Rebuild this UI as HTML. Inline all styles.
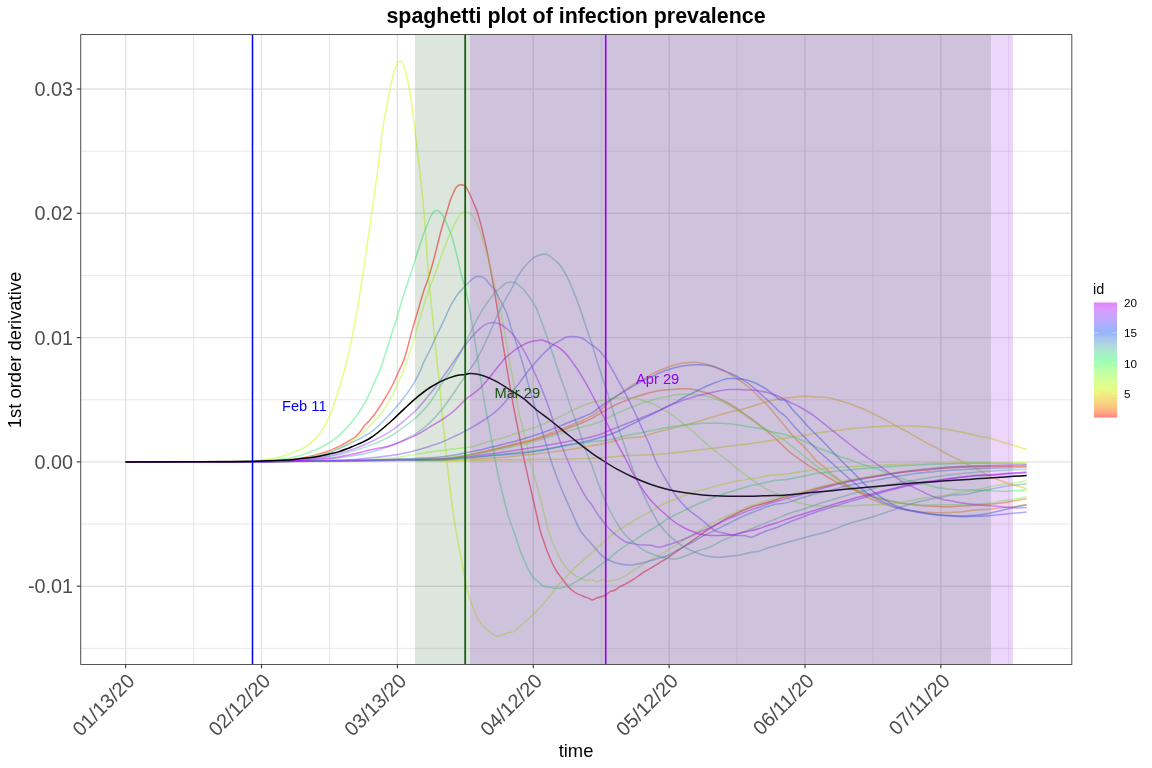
<!DOCTYPE html><html><head><meta charset="utf-8"><title>spaghetti plot of infection prevalence</title>
<style>html,body{margin:0;padding:0;background:#fff}svg{display:block}text{font-family:"Liberation Sans",sans-serif}</style></head><body>
<svg width="1152" height="768" viewBox="0 0 1152 768">
<rect width="1152" height="768" fill="#fff"/>
<defs><clipPath id="pc"><rect x="80.7" y="34.5" width="991.1" height="629.9"/></clipPath>
<linearGradient id="cb" x1="0" y1="1" x2="0" y2="0"><stop offset="0.0000" stop-color="#ff8080"/><stop offset="0.0526" stop-color="#feb280"/><stop offset="0.1053" stop-color="#faca80"/><stop offset="0.1579" stop-color="#f6de80"/><stop offset="0.2105" stop-color="#eef180"/><stop offset="0.2632" stop-color="#e2ff88"/><stop offset="0.3158" stop-color="#d7ff98"/><stop offset="0.3684" stop-color="#caffa1"/><stop offset="0.4211" stop-color="#b9ffa8"/><stop offset="0.4737" stop-color="#a0ffb0"/><stop offset="0.5263" stop-color="#9ef7bd"/><stop offset="0.5789" stop-color="#ade6cf"/><stop offset="0.6316" stop-color="#b0d6df"/><stop offset="0.6842" stop-color="#aac6ee"/><stop offset="0.7368" stop-color="#94b6fc"/><stop offset="0.7895" stop-color="#a7b0ff"/><stop offset="0.8421" stop-color="#bcaaff"/><stop offset="0.8947" stop-color="#cca4ff"/><stop offset="0.9474" stop-color="#da9aff"/><stop offset="1.0000" stop-color="#e680ff"/></linearGradient></defs>
<g><line x1="80.7" x2="1071.7" y1="648.35" y2="648.35" stroke="#e5e5e5" stroke-width="0.9"/><line x1="80.7" x2="1071.7" y1="524.05" y2="524.05" stroke="#e5e5e5" stroke-width="0.9"/><line x1="80.7" x2="1071.7" y1="399.75" y2="399.75" stroke="#e5e5e5" stroke-width="0.9"/><line x1="80.7" x2="1071.7" y1="275.45" y2="275.45" stroke="#e5e5e5" stroke-width="0.9"/><line x1="80.7" x2="1071.7" y1="151.15" y2="151.15" stroke="#e5e5e5" stroke-width="0.9"/><line y1="34.5" y2="664.4" x1="193.59" x2="193.59" stroke="#e5e5e5" stroke-width="0.9"/><line y1="34.5" y2="664.4" x1="329.46" x2="329.46" stroke="#e5e5e5" stroke-width="0.9"/><line y1="34.5" y2="664.4" x1="465.33" x2="465.33" stroke="#e5e5e5" stroke-width="0.9"/><line y1="34.5" y2="664.4" x1="601.20" x2="601.20" stroke="#e5e5e5" stroke-width="0.9"/><line y1="34.5" y2="664.4" x1="737.06" x2="737.06" stroke="#e5e5e5" stroke-width="0.9"/><line y1="34.5" y2="664.4" x1="872.93" x2="872.93" stroke="#e5e5e5" stroke-width="0.9"/><line y1="34.5" y2="664.4" x1="1008.80" x2="1008.80" stroke="#e5e5e5" stroke-width="0.9"/><line x1="80.7" x2="1071.7" y1="586.20" y2="586.20" stroke="#e3e3e3" stroke-width="1.4"/><line x1="80.7" x2="1071.7" y1="461.90" y2="461.90" stroke="#e3e3e3" stroke-width="1.4"/><line x1="80.7" x2="1071.7" y1="337.60" y2="337.60" stroke="#e3e3e3" stroke-width="1.4"/><line x1="80.7" x2="1071.7" y1="213.30" y2="213.30" stroke="#e3e3e3" stroke-width="1.4"/><line x1="80.7" x2="1071.7" y1="89.00" y2="89.00" stroke="#e3e3e3" stroke-width="1.4"/><line y1="34.5" y2="664.4" x1="125.65" x2="125.65" stroke="#e3e3e3" stroke-width="1.4"/><line y1="34.5" y2="664.4" x1="261.52" x2="261.52" stroke="#e3e3e3" stroke-width="1.4"/><line y1="34.5" y2="664.4" x1="397.39" x2="397.39" stroke="#e3e3e3" stroke-width="1.4"/><line y1="34.5" y2="664.4" x1="533.26" x2="533.26" stroke="#e3e3e3" stroke-width="1.4"/><line y1="34.5" y2="664.4" x1="669.13" x2="669.13" stroke="#e3e3e3" stroke-width="1.4"/><line y1="34.5" y2="664.4" x1="805.00" x2="805.00" stroke="#e3e3e3" stroke-width="1.4"/><line y1="34.5" y2="664.4" x1="940.87" x2="940.87" stroke="#e3e3e3" stroke-width="1.4"/></g>
<g clip-path="url(#pc)" fill="none" stroke-linejoin="round">
<path d="M125.6,461.9C150.4,461.9 175.2,461.8 200.0,461.8C216.7,461.8 233.3,462.0 250.0,461.7C256.7,461.6 263.3,461.6 270.0,461.2C274.0,461.0 278.0,460.6 282.0,460.2C286.2,459.9 290.3,459.6 294.5,459.0C298.7,458.4 302.8,457.8 307.0,456.9C311.2,456.0 315.3,454.9 319.5,453.8C322.8,452.8 326.2,451.8 329.5,450.6C332.4,449.5 335.3,448.3 338.2,446.9C341.2,445.4 344.1,443.6 347.0,441.9C349.5,440.5 352.0,439.6 354.5,437.5C356.2,436.1 357.8,434.5 359.5,432.5C361.2,430.5 362.8,427.6 364.5,425.6C366.2,423.6 367.8,422.4 369.5,420.6C375.1,414.4 380.7,405.8 386.2,396.2C388.3,392.7 390.4,389.2 392.5,385.0C394.6,380.8 396.7,376.0 398.8,371.2C400.8,366.5 402.9,363.3 405.0,356.7C406.2,353.0 407.3,348.3 408.5,344.0C410.4,336.9 412.4,329.0 414.3,322.5C415.4,318.7 416.6,315.5 417.7,311.7C418.8,308.0 419.9,303.8 421.0,300.0C422.1,296.2 423.2,292.5 424.3,289.2C425.4,285.8 426.6,283.3 427.7,280.0C429.6,274.5 431.4,268.2 433.3,261.3C434.4,257.1 435.6,252.5 436.7,248.0C437.8,243.6 438.9,238.9 440.0,234.7C441.1,230.5 442.2,226.7 443.3,223.0C444.4,219.2 445.6,215.9 446.7,212.2C447.8,208.6 448.9,204.5 450.0,201.3C451.1,198.1 452.2,195.4 453.3,193.0C454.4,190.5 455.6,188.1 456.7,186.7C458.2,184.8 459.8,184.7 461.3,184.7C462.8,184.7 464.3,184.9 465.8,186.7C467.2,188.4 468.6,191.7 470.0,194.7C471.1,197.0 472.2,199.6 473.3,202.2C474.4,204.9 475.6,207.3 476.7,210.5C477.8,213.6 478.9,217.3 480.0,221.3C481.1,225.3 482.2,230.0 483.3,234.7C484.4,239.5 485.6,244.3 486.7,249.7C487.8,254.9 488.9,260.5 490.0,266.3C491.4,273.7 492.8,281.9 494.2,290.0C496.4,302.8 498.6,316.3 500.8,330.0C502.5,340.4 504.1,351.5 505.8,361.7C507.6,372.9 509.4,383.8 511.2,394.0C512.2,399.5 513.2,404.8 514.2,410.0C515.3,415.8 516.4,421.1 517.5,426.7C518.6,432.2 519.7,437.8 520.8,443.3C521.9,448.9 523.1,454.7 524.2,460.0C525.6,466.4 526.9,472.3 528.3,478.3C529.7,484.5 531.1,490.6 532.5,496.7C533.9,502.8 535.3,508.8 536.7,515.0C537.8,519.9 538.9,525.8 540.0,530.0C541.1,534.2 542.2,536.7 543.3,540.0C544.4,543.4 545.6,546.9 546.7,550.0C548.1,553.7 549.4,556.9 550.8,560.0C552.5,563.7 554.1,567.1 555.8,570.0C557.8,573.4 559.7,575.7 561.7,578.3C563.9,581.3 566.1,584.3 568.3,586.7C570.5,589.1 572.8,591.0 575.0,592.5C577.8,594.4 580.5,595.2 583.3,596.3C585.2,597.1 587.1,597.6 589.0,598.4C590.2,598.9 591.3,600.0 592.5,600.0C593.5,600.0 594.5,599.0 595.5,598.6C596.4,598.2 597.4,597.9 598.3,597.5C600.8,596.6 603.3,596.6 605.8,595.0C607.2,594.1 608.6,592.5 610.0,591.7C611.7,590.7 613.3,590.8 615.0,590.0C616.7,589.2 618.3,587.6 620.0,586.7C621.8,585.7 623.5,585.1 625.3,584.2C628.1,582.7 630.9,581.0 633.7,579.2C636.5,577.4 639.2,575.1 642.0,573.3C644.8,571.5 647.5,570.0 650.3,568.3C653.1,566.6 655.9,565.0 658.7,563.3C661.5,561.6 664.2,560.1 667.0,558.3C669.8,556.5 672.5,554.4 675.3,552.5C678.1,550.6 680.9,548.7 683.7,546.7C686.5,544.8 689.2,542.8 692.0,540.8C694.8,538.8 697.5,536.9 700.3,535.0C703.1,533.1 705.9,531.0 708.7,529.2C711.5,527.4 714.2,525.9 717.0,524.2C719.8,522.5 722.5,520.7 725.3,519.2C728.1,517.7 730.9,516.4 733.7,515.0C736.5,513.6 739.2,512.0 742.0,510.8C744.8,509.6 747.5,508.5 750.3,507.5C753.1,506.5 755.9,505.8 758.7,505.0C761.5,504.2 764.2,503.3 767.0,502.5C769.8,501.7 772.5,500.9 775.3,500.0C778.2,499.1 781.1,497.9 784.0,497.0C789.6,495.3 795.1,494.8 800.7,493.3C806.2,491.9 811.8,489.8 817.3,488.3C822.9,486.8 828.4,485.5 834.0,484.2C839.6,482.9 845.1,481.6 850.7,480.5C856.2,479.4 861.8,478.4 867.3,477.5C872.9,476.6 878.4,475.8 884.0,475.0C889.6,474.2 895.1,473.2 900.7,472.5C906.2,471.8 911.8,471.3 917.3,470.8C922.9,470.2 928.4,469.7 934.0,469.2C939.6,468.7 945.1,468.2 950.7,467.8C956.2,467.4 961.8,467.2 967.3,467.0C970.2,466.9 973.1,466.8 976.0,466.7C984.0,466.5 992.0,466.6 1000.0,466.5C1008.9,466.4 1017.8,466.2 1026.7,466.0" stroke="#ff0000" stroke-opacity="0.5" stroke-width="1.5"/>
<path d="M125.6,461.9C150.4,461.9 175.2,461.9 200.0,461.8C233.3,461.7 266.7,461.4 300.0,461.0C333.3,460.6 366.7,460.2 400.0,459.5C416.7,459.1 433.3,460.5 450.0,458.3C455.6,457.6 461.1,456.5 466.7,455.5C472.2,454.5 477.8,453.5 483.3,452.3C488.9,451.1 494.4,449.6 500.0,448.3C505.6,447.0 511.1,445.6 516.7,444.3C522.2,443.0 527.8,441.8 533.3,440.3C538.9,438.7 544.4,436.9 550.0,435.0C555.6,433.1 561.1,430.8 566.7,428.7C572.2,426.6 577.8,424.7 583.3,422.3C586.2,421.0 589.1,419.8 592.0,418.3C594.8,416.8 597.5,415.0 600.3,413.3C603.1,411.6 605.9,409.8 608.7,408.3C611.5,406.8 614.2,405.4 617.0,404.2C619.8,402.9 622.5,401.9 625.3,400.8C628.1,399.7 630.9,398.5 633.7,397.5C636.5,396.5 639.2,395.8 642.0,395.0C644.8,394.2 647.5,393.2 650.3,392.5C653.1,391.8 655.9,391.3 658.7,390.8C661.5,390.3 664.2,390.0 667.0,389.7C669.8,389.4 672.5,389.3 675.3,389.2C678.6,389.0 682.0,388.7 685.3,388.8C688.1,388.9 690.9,389.0 693.7,389.5C696.5,390.0 699.2,390.9 702.0,391.7C704.8,392.5 707.5,393.1 710.3,394.2C713.1,395.3 715.9,396.9 718.7,398.3C721.5,399.7 724.2,401.0 727.0,402.5C729.8,404.0 732.5,405.7 735.3,407.5C738.1,409.3 740.9,411.3 743.7,413.3C746.5,415.2 749.2,417.1 752.0,419.2C754.8,421.3 757.5,423.6 760.3,425.8C763.1,428.0 765.9,430.1 768.7,432.5C771.5,434.9 774.2,437.4 777.0,440.0C779.3,442.2 781.7,444.5 784.0,446.7C786.8,449.3 789.5,452.0 792.3,454.2C795.1,456.4 797.9,458.1 800.7,460.0C803.5,461.9 806.2,464.0 809.0,465.8C811.8,467.6 814.5,469.1 817.3,470.8C820.1,472.5 822.9,474.1 825.7,475.8C828.5,477.5 831.2,479.3 834.0,480.8C836.8,482.3 839.5,483.8 842.3,485.0C845.1,486.3 847.9,487.2 850.7,488.3C853.5,489.4 856.2,490.6 859.0,491.7C861.8,492.8 864.5,494.0 867.3,495.0C870.1,496.0 872.9,496.7 875.7,497.5C878.5,498.3 881.2,499.1 884.0,499.7C886.8,500.3 889.5,500.8 892.3,501.3C895.1,501.9 897.9,502.5 900.7,503.0C903.5,503.5 906.2,503.8 909.0,504.2C911.8,504.6 914.5,505.0 917.3,505.3C922.9,505.9 928.4,506.0 934.0,506.2C939.6,506.4 945.1,506.8 950.7,506.7C956.2,506.6 961.8,506.2 967.3,505.8C970.2,505.6 973.1,505.2 976.0,505.0C980.7,504.6 985.3,504.6 990.0,504.2C993.3,503.9 996.7,503.4 1000.0,503.0C1003.3,502.6 1006.7,502.3 1010.0,501.7C1012.8,501.2 1015.5,500.5 1018.3,500.0C1021.1,499.5 1023.9,499.1 1026.7,498.7" stroke="#fc6500" stroke-opacity="0.5" stroke-width="1.5"/>
<path d="M125.6,461.9C150.4,461.9 175.2,461.9 200.0,461.8C233.3,461.7 266.7,461.4 300.0,461.0C333.3,460.6 366.7,460.3 400.0,459.5C416.7,459.1 433.3,460.4 450.0,458.0C455.6,457.2 461.1,456.1 466.7,455.0C472.2,454.0 477.8,452.9 483.3,451.7C488.9,450.4 494.4,448.9 500.0,447.5C505.6,446.1 511.1,444.7 516.7,443.3C522.2,441.9 527.8,440.9 533.3,439.2C538.9,437.5 544.4,435.4 550.0,433.3C555.6,431.2 561.1,428.9 566.7,426.7C572.2,424.5 577.8,422.5 583.3,420.0C586.2,418.7 589.1,417.5 592.0,415.8C594.8,414.2 597.5,412.2 600.3,410.0C603.1,407.8 605.9,404.9 608.7,402.5C611.5,400.1 614.2,397.9 617.0,395.8C619.8,393.7 622.5,391.9 625.3,390.0C628.1,388.1 630.9,385.9 633.7,384.2C636.5,382.5 639.2,381.5 642.0,380.0C644.8,378.5 647.5,376.5 650.3,375.0C653.1,373.5 655.9,372.1 658.7,370.8C661.5,369.6 664.2,368.5 667.0,367.5C669.8,366.5 672.5,365.4 675.3,364.7C678.1,363.9 680.9,363.4 683.7,363.0C687.0,362.5 690.4,362.1 693.7,362.2C696.5,362.3 699.2,362.8 702.0,363.3C704.8,363.8 707.5,364.5 710.3,365.3C713.1,366.1 715.9,367.1 718.7,368.3C721.5,369.5 724.2,371.0 727.0,372.5C729.8,374.0 732.5,375.7 735.3,377.5C738.1,379.3 740.9,381.2 743.7,383.3C746.5,385.4 749.2,387.5 752.0,390.0C754.8,392.5 757.5,395.5 760.3,398.3C763.1,401.1 765.9,403.6 768.7,406.7C771.5,409.8 774.2,413.4 777.0,416.7C779.3,419.5 781.7,422.2 784.0,425.0C786.2,427.7 788.5,430.6 790.7,433.3C792.9,435.9 795.1,438.6 797.3,440.8C799.5,443.1 801.8,444.5 804.0,446.7C806.2,448.9 808.5,451.7 810.7,454.2C812.9,456.7 815.1,459.6 817.3,461.7C819.5,463.8 821.8,464.8 824.0,466.7C826.2,468.6 828.5,471.4 830.7,473.3C832.9,475.2 835.1,476.6 837.3,478.3C839.5,480.0 841.8,481.8 844.0,483.3C846.2,484.8 848.5,486.1 850.7,487.5C853.5,489.2 856.2,490.8 859.0,492.5C861.8,494.2 864.5,496.1 867.3,497.5C870.1,498.9 872.9,499.7 875.7,500.8C878.5,501.9 881.2,503.2 884.0,504.2C886.8,505.2 889.5,506.0 892.3,506.7C894.9,507.3 897.4,507.7 900.0,508.3C903.3,509.1 906.7,510.2 910.0,510.8C913.3,511.4 916.7,511.7 920.0,512.0C923.3,512.3 926.7,512.5 930.0,512.6C935.6,512.8 941.1,512.7 946.7,512.5C952.2,512.3 957.8,512.2 963.3,511.7C967.5,511.3 971.8,510.4 976.0,510.0C980.7,509.5 985.3,509.6 990.0,509.2C994.4,508.8 998.9,507.9 1003.3,507.5C1006.6,507.2 1010.0,507.1 1013.3,506.7C1017.8,506.1 1022.2,505.0 1026.7,504.2" stroke="#f69500" stroke-opacity="0.5" stroke-width="1.5"/>
<path d="M125.6,461.9C150.4,461.9 175.2,461.9 200.0,461.8C233.3,461.7 266.7,461.5 300.0,461.3C333.3,461.1 366.7,460.8 400.0,460.5C416.7,460.3 433.3,460.6 450.0,460.0C455.6,459.8 461.1,459.5 466.7,459.2C477.8,458.7 488.9,458.3 500.0,457.5C511.1,456.7 522.2,455.4 533.3,454.2C544.4,452.9 555.6,451.7 566.7,450.0C575.1,448.7 583.6,447.4 592.0,445.8C597.6,444.8 603.1,443.8 608.7,442.5C614.2,441.3 619.8,439.3 625.3,438.3C630.9,437.3 636.4,437.8 642.0,436.7C647.6,435.6 653.1,433.2 658.7,431.7C664.2,430.2 669.8,428.9 675.3,427.5C680.9,426.1 686.4,424.8 692.0,423.3C697.6,421.8 703.1,420.0 708.7,418.3C714.2,416.6 719.8,414.8 725.3,413.3C730.9,411.8 736.4,410.7 742.0,409.2C747.6,407.7 753.1,405.9 758.7,404.2C761.5,403.4 764.2,402.4 767.0,401.7C769.8,400.9 772.5,400.3 775.3,399.7C778.2,399.1 781.1,398.7 784.0,398.3C787.3,397.8 790.7,397.3 794.0,397.0C797.9,396.6 801.8,396.3 805.7,396.3C809.6,396.3 813.4,396.8 817.3,397.0C820.6,397.2 824.0,397.0 827.3,397.5C830.6,398.0 834.0,399.1 837.3,400.0C840.6,400.9 844.0,401.7 847.3,402.8C850.6,403.9 854.0,405.4 857.3,406.7C860.6,408.0 864.0,409.3 867.3,410.8C870.6,412.3 874.0,414.1 877.3,415.8C880.6,417.5 884.0,419.0 887.3,420.8C890.6,422.6 894.0,424.9 897.3,426.7C900.6,428.5 904.0,429.9 907.3,431.7C910.6,433.5 914.0,435.6 917.3,437.5C920.6,439.4 924.0,441.5 927.3,443.3C930.6,445.1 934.0,446.5 937.3,448.3C940.6,450.1 944.0,452.4 947.3,454.2C950.6,456.0 954.0,457.5 957.3,459.2C960.6,460.9 964.0,462.6 967.3,464.2C970.2,465.6 973.1,466.7 976.0,468.3C979.6,470.2 983.1,473.1 986.7,475.0C990.0,476.7 993.4,477.9 996.7,479.2C1000.0,480.5 1003.4,481.9 1006.7,483.0C1010.0,484.1 1013.4,484.9 1016.7,485.8C1020.0,486.8 1023.4,487.7 1026.7,488.7" stroke="#ecbe00" stroke-opacity="0.5" stroke-width="1.5"/>
<path d="M125.6,461.9C150.4,461.9 175.2,461.8 200.0,461.8C233.3,461.7 266.7,461.7 300.0,461.6C333.3,461.5 366.7,461.5 400.0,461.2C422.2,461.0 444.5,460.8 466.7,460.5C488.9,460.2 511.1,459.9 533.3,459.5C552.9,459.1 572.4,459.3 592.0,458.2C603.1,457.6 614.2,456.5 625.3,455.8C636.4,455.1 647.6,455.0 658.7,454.2C669.8,453.4 680.9,452.1 692.0,450.8C703.1,449.6 714.2,448.1 725.3,446.7C736.4,445.3 747.6,444.2 758.7,442.5C767.1,441.2 775.6,439.6 784.0,438.3C789.6,437.4 795.1,436.7 800.7,435.8C806.2,434.9 811.8,433.8 817.3,433.0C822.9,432.2 828.4,431.5 834.0,430.8C839.6,430.1 845.1,429.3 850.7,428.7C856.2,428.1 861.8,427.6 867.3,427.2C872.9,426.8 878.4,426.4 884.0,426.2C889.6,426.0 895.1,425.8 900.7,425.8C906.2,425.8 911.8,426.0 917.3,426.3C922.9,426.6 928.4,426.9 934.0,427.5C939.6,428.1 945.1,429.0 950.7,430.0C956.2,431.0 961.8,432.0 967.3,433.3C970.2,434.0 973.1,434.8 976.0,435.5C980.7,436.6 985.3,437.1 990.0,438.3C994.4,439.4 998.9,441.2 1003.3,442.5C1006.6,443.5 1010.0,444.3 1013.3,445.3C1017.8,446.6 1022.2,448.1 1026.7,449.5" stroke="#dde300" stroke-opacity="0.5" stroke-width="1.5"/>
<path d="M125.6,461.9C150.4,461.9 175.2,461.9 200.0,461.8C210.7,461.8 221.3,462.0 232.0,461.7C240.3,461.5 248.7,461.5 257.0,460.6C261.2,460.1 265.3,459.5 269.5,458.8C273.7,458.0 277.8,457.4 282.0,456.2C286.2,455.1 290.3,453.6 294.5,451.9C297.8,450.6 301.2,449.6 304.5,447.5C307.4,445.7 310.3,443.4 313.2,440.6C315.3,438.6 317.4,436.6 319.5,433.8C321.6,430.9 323.7,427.7 325.8,423.8C327.8,419.8 329.9,415.5 332.0,410.0C333.7,405.6 335.3,400.3 337.0,395.0C338.2,391.0 339.5,386.7 340.8,382.5C342.0,378.3 343.2,374.6 344.5,370.0C349.5,351.7 354.5,326.8 359.5,296.0C361.3,284.7 363.2,272.4 365.0,259.7C366.1,252.1 367.2,244.0 368.3,236.3C369.4,228.4 370.6,220.9 371.7,213.0C372.8,205.3 373.9,197.6 375.0,189.7C376.0,182.5 377.0,175.7 378.0,168.0C379.5,156.4 381.0,140.7 382.5,130.0C384.2,118.1 385.8,110.4 387.5,101.7C389.3,92.2 391.2,82.7 393.0,75.8C393.9,72.3 394.9,69.0 395.8,66.7C397.9,61.6 399.9,59.9 402.0,62.6C403.6,64.7 405.1,69.2 406.7,75.8C408.2,82.3 409.8,91.2 411.3,101.7C412.6,110.8 414.0,122.5 415.3,133.3C416.7,144.6 418.1,155.3 419.5,168.0C421.1,182.2 422.6,196.0 424.2,214.7C425.8,233.4 427.3,261.8 428.9,280.0C430.0,292.9 431.1,301.9 432.2,313.3C433.2,323.3 434.2,334.1 435.2,344.0C436.8,360.1 438.4,373.7 440.0,390.0C441.4,404.3 442.8,420.9 444.2,435.0C445.9,451.8 447.5,467.6 449.2,481.7C451.4,500.3 453.6,516.4 455.8,530.0C457.5,540.3 459.1,547.8 460.8,556.7C462.5,565.6 464.1,575.8 465.8,583.3C466.9,588.4 468.1,592.8 469.2,596.7C470.6,601.4 471.9,604.7 473.3,608.3C475.0,612.6 476.6,616.9 478.3,620.0C481.1,625.3 483.9,626.7 486.7,629.2C490.3,632.5 493.9,635.8 497.5,636.3C500.6,636.7 503.6,634.3 506.7,633.3C509.5,632.4 512.2,632.5 515.0,630.8C517.8,629.1 520.5,625.8 523.3,623.3C526.6,620.3 530.0,617.4 533.3,614.2C536.1,611.5 538.9,608.9 541.7,605.8C544.5,602.7 547.2,599.4 550.0,595.8C552.2,592.9 554.5,589.4 556.7,586.7C559.5,583.4 562.2,581.2 565.0,578.3C567.8,575.4 570.5,572.0 573.3,569.2C576.1,566.4 578.9,564.2 581.7,561.7C585.1,558.6 588.6,555.6 592.0,552.5C594.8,550.0 597.5,547.5 600.3,545.0C603.1,542.5 605.9,539.9 608.7,537.5C611.5,535.1 614.2,532.8 617.0,530.8C619.8,528.8 622.5,527.5 625.3,525.8C628.1,524.1 630.9,522.5 633.7,520.8C636.5,519.1 639.2,517.3 642.0,515.8C644.8,514.3 647.5,513.2 650.3,511.7C653.1,510.2 655.9,508.2 658.7,506.7C661.5,505.2 664.2,503.8 667.0,502.5C669.8,501.2 672.5,500.3 675.3,499.2C678.1,498.1 680.9,496.9 683.7,495.8C686.5,494.7 689.2,493.4 692.0,492.5C694.8,491.6 697.5,491.0 700.3,490.3C703.1,489.5 705.9,488.8 708.7,488.0C711.5,487.3 714.2,486.5 717.0,485.8C719.8,485.1 722.5,484.4 725.3,483.7C728.1,483.0 730.9,482.3 733.7,481.7C736.5,481.1 739.2,480.8 742.0,480.3C744.8,479.8 747.5,479.3 750.3,478.8C753.1,478.3 755.9,478.0 758.7,477.5C761.5,477.0 764.2,476.3 767.0,475.8C769.8,475.3 772.5,475.0 775.3,474.7C778.2,474.4 781.1,474.5 784.0,474.2C789.6,473.7 795.1,472.5 800.7,471.7C806.2,470.9 811.8,469.9 817.3,469.2C822.9,468.5 828.4,467.9 834.0,467.5C839.6,467.1 845.1,467.0 850.7,466.7C856.2,466.4 861.8,466.1 867.3,465.8C872.9,465.5 878.4,465.3 884.0,465.0C889.6,464.7 895.1,464.4 900.7,464.2C906.2,464.0 911.8,463.8 917.3,463.7C922.9,463.5 928.4,463.4 934.0,463.3C939.6,463.2 945.1,463.1 950.7,463.0C959.1,462.9 967.6,462.8 976.0,462.8C984.0,462.8 992.0,462.8 1000.0,462.8C1008.9,462.8 1017.8,462.8 1026.7,462.8" stroke="#c6ff11" stroke-opacity="0.5" stroke-width="1.5"/>
<path d="M125.6,461.9C150.4,461.9 175.2,461.8 200.0,461.8C216.7,461.8 233.3,461.9 250.0,461.7C258.3,461.6 266.7,461.7 275.0,461.2C281.5,460.8 288.0,460.2 294.5,459.4C298.7,458.9 302.8,458.2 307.0,457.5C311.2,456.8 315.3,456.1 319.5,455.0C322.8,454.1 326.2,453.2 329.5,451.9C332.4,450.8 335.3,449.5 338.2,448.1C341.2,446.7 344.1,445.3 347.0,443.8C349.5,442.4 352.0,441.1 354.5,439.4C357.0,437.7 359.5,435.9 362.0,433.8C364.5,431.6 367.0,428.9 369.5,426.2C375.1,420.3 380.7,415.4 386.2,406.2C388.3,402.8 390.4,399.2 392.5,395.0C394.6,390.8 396.7,385.9 398.8,381.2C400.4,377.5 402.1,374.3 403.8,370.0C405.8,364.7 407.9,357.7 410.0,351.7C410.9,349.1 411.8,346.9 412.7,344.0C413.8,340.4 414.9,335.7 416.0,331.7C417.1,327.7 418.2,323.7 419.3,320.0C420.4,316.2 421.6,312.9 422.7,309.2C423.8,305.6 424.9,301.8 426.0,298.3C427.1,294.8 428.2,291.3 429.3,288.3C430.4,285.2 431.6,282.9 432.7,280.0C434.6,275.2 436.4,270.0 438.3,264.7C439.4,261.5 440.6,257.8 441.7,254.7C442.8,251.7 443.9,249.1 445.0,246.3C446.1,243.5 447.2,240.6 448.3,238.0C449.4,235.3 450.6,233.0 451.7,230.5C452.8,228.0 453.9,225.2 455.0,223.0C456.1,220.8 457.2,218.9 458.3,217.2C459.4,215.5 460.6,213.9 461.7,213.0C463.1,211.9 464.4,211.7 465.8,211.7C467.2,211.7 468.6,211.8 470.0,213.0C471.1,213.9 472.2,215.6 473.3,217.2C474.4,218.9 475.6,220.6 476.7,223.0C477.8,225.3 478.9,228.2 480.0,231.3C481.1,234.4 482.2,237.7 483.3,241.3C484.4,245.0 485.6,248.8 486.7,253.0C487.8,257.1 488.9,261.8 490.0,266.3C491.9,274.1 493.9,281.8 495.8,290.0C497.2,295.9 498.6,301.6 500.0,308.3C501.4,315.0 502.8,322.2 504.2,330.0C505.9,339.2 507.5,350.6 509.2,360.0C511.0,370.1 512.8,378.2 514.6,388.3C515.8,395.2 517.1,403.9 518.3,410.0C519.7,417.0 521.1,420.9 522.5,426.7C523.9,432.5 525.3,438.8 526.7,445.0C528.1,451.0 529.4,457.7 530.8,463.3C532.5,470.2 534.1,475.6 535.8,481.7C537.5,487.8 539.1,493.7 540.8,500.0C543.3,509.5 545.8,521.8 548.3,530.0C549.4,533.7 550.6,536.9 551.7,540.0C553.1,543.7 554.4,546.9 555.8,550.0C557.5,553.7 559.1,557.1 560.8,560.0C562.8,563.4 564.7,566.0 566.7,568.3C568.9,570.9 571.1,572.5 573.3,574.2C575.5,575.9 577.8,577.2 580.0,578.3C582.2,579.3 584.5,580.3 586.7,580.5C588.5,580.7 590.2,579.8 592.0,580.0C593.7,580.2 595.3,581.8 597.0,581.7C598.7,581.7 600.3,580.0 602.0,579.7C604.2,579.3 606.5,580.7 608.7,580.8C611.5,580.9 614.2,580.5 617.0,579.7C619.8,578.9 622.5,577.4 625.3,575.8C628.1,574.2 630.9,571.8 633.7,570.0C636.5,568.2 639.2,566.7 642.0,565.0C644.8,563.3 647.5,561.5 650.3,560.0C653.1,558.5 655.9,557.3 658.7,555.8C661.5,554.3 664.2,552.5 667.0,550.8C669.8,549.1 672.5,547.6 675.3,545.8C678.1,544.0 680.9,541.8 683.7,540.0C686.5,538.2 689.2,536.7 692.0,535.0C694.8,533.3 697.5,531.7 700.3,530.0C703.1,528.3 705.9,526.5 708.7,525.0C711.5,523.5 714.2,522.2 717.0,520.8C719.8,519.4 722.5,518.0 725.3,516.7C728.1,515.4 730.9,514.3 733.7,513.0C736.5,511.8 739.2,510.4 742.0,509.2C744.8,508.0 747.5,506.8 750.3,505.8C753.1,504.8 755.9,504.1 758.7,503.3C761.5,502.5 764.2,501.6 767.0,500.8C769.8,500.0 772.5,499.4 775.3,498.7C778.2,497.9 781.1,497.0 784.0,496.2C789.6,494.7 795.1,494.0 800.7,492.5C806.2,491.1 811.8,489.0 817.3,487.5C822.9,486.0 828.4,484.7 834.0,483.4C839.6,482.1 845.1,480.8 850.7,479.7C856.2,478.6 861.8,477.6 867.3,476.7C872.9,475.8 878.4,475.0 884.0,474.2C889.6,473.4 895.1,472.4 900.7,471.7C906.2,471.0 911.8,470.5 917.3,470.0C922.9,469.4 928.4,468.9 934.0,468.4C939.6,467.9 945.1,467.4 950.7,467.0C956.2,466.6 961.8,466.4 967.3,466.2C970.2,466.1 973.1,466.0 976.0,465.9C984.0,465.7 992.0,465.8 1000.0,465.7C1008.9,465.6 1017.8,465.4 1026.7,465.3" stroke="#afff30" stroke-opacity="0.5" stroke-width="1.5"/>
<path d="M125.6,461.9C150.4,461.9 175.2,461.9 200.0,461.8C233.3,461.7 266.7,461.9 300.0,461.0C335.0,460.1 370.0,461.5 405.0,456.2C413.3,455.0 421.7,453.1 430.0,451.9C438.3,450.6 446.7,449.8 455.0,448.8C461.3,447.9 467.7,447.9 474.0,446.2C477.1,445.5 480.2,444.2 483.3,443.3C487.2,442.1 491.1,441.1 495.0,440.0C498.9,438.9 502.8,437.9 506.7,436.7C510.0,435.7 513.4,434.4 516.7,433.3C520.0,432.2 523.4,431.1 526.7,430.0C530.0,428.9 533.4,427.9 536.7,426.7C540.0,425.4 543.4,423.9 546.7,422.5C550.0,421.1 553.4,419.8 556.7,418.3C560.0,416.8 563.4,415.0 566.7,413.3C568.4,412.5 570.0,411.6 571.7,410.8C574.5,409.4 577.2,407.9 580.0,406.7C584.0,405.0 588.0,403.6 592.0,402.5C594.8,401.8 597.5,401.3 600.3,400.8C603.1,400.2 605.9,399.7 608.7,399.2C611.5,398.7 614.2,398.3 617.0,398.0C619.8,397.7 622.5,397.5 625.3,397.5C628.1,397.5 630.9,397.8 633.7,398.3C636.5,398.8 639.2,399.5 642.0,400.3C644.8,401.1 647.5,401.9 650.3,403.0C653.1,404.1 655.9,405.2 658.7,406.7C661.5,408.1 664.2,409.9 667.0,411.7C669.8,413.5 672.5,415.4 675.3,417.5C678.1,419.6 680.9,422.0 683.7,424.2C686.5,426.4 689.2,428.4 692.0,430.8C694.8,433.2 697.5,435.8 700.3,438.3C703.1,440.8 705.9,443.4 708.7,445.8C711.5,448.2 714.2,450.3 717.0,452.5C720.3,455.1 723.7,457.3 727.0,460.0C729.2,461.8 731.5,463.9 733.7,465.8C736.5,468.1 739.2,470.4 742.0,472.5C744.8,474.6 747.5,476.4 750.3,478.3C753.1,480.3 755.9,482.4 758.7,484.2C761.5,486.0 764.2,487.7 767.0,489.2C769.8,490.7 772.5,492.1 775.3,493.3C778.2,494.6 781.1,495.4 784.0,496.7C786.8,497.9 789.5,499.7 792.3,500.8C795.1,501.9 797.9,502.6 800.7,503.3C803.5,504.0 806.2,504.5 809.0,505.0C814.6,505.9 820.1,506.1 825.7,506.3C834.0,506.6 842.4,506.1 850.7,505.8C856.2,505.6 861.8,505.3 867.3,505.0C872.9,504.7 878.4,504.6 884.0,504.2C889.6,503.8 895.1,503.3 900.7,502.5C906.2,501.7 911.8,500.2 917.3,499.2C922.9,498.2 928.4,497.5 934.0,496.7C939.6,495.9 945.1,495.1 950.7,494.2C956.2,493.3 961.8,492.2 967.3,491.3C970.2,490.8 973.1,490.5 976.0,490.0C980.7,489.1 985.3,487.7 990.0,486.7C994.4,485.8 998.9,484.9 1003.3,484.2C1006.6,483.7 1010.0,483.5 1013.3,483.0C1017.8,482.4 1022.2,481.5 1026.7,480.8" stroke="#94ff43" stroke-opacity="0.5" stroke-width="1.5"/>
<path d="M125.6,461.9C150.4,461.9 175.2,461.9 200.0,461.8C233.3,461.7 266.7,461.4 300.0,461.0C333.3,460.6 366.7,460.6 400.0,459.5C416.7,459.0 433.3,459.5 450.0,457.5C455.6,456.8 461.1,455.8 466.7,455.0C472.2,454.2 477.8,453.5 483.3,452.5C488.9,451.5 494.4,450.3 500.0,449.2C505.6,448.1 511.1,447.1 516.7,445.8C522.2,444.6 527.8,443.2 533.3,441.7C538.9,440.2 544.4,438.4 550.0,436.7C555.6,435.0 561.1,433.4 566.7,431.7C572.2,430.0 577.8,428.2 583.3,426.7C586.2,425.9 589.1,425.4 592.0,424.5C594.8,423.7 597.5,422.9 600.3,421.7C603.1,420.5 605.9,418.9 608.7,417.5C611.5,416.1 614.2,414.6 617.0,413.3C619.8,412.0 622.5,410.9 625.3,409.7C628.1,408.5 630.9,407.3 633.7,406.2C636.5,405.1 639.2,404.2 642.0,403.3C644.8,402.4 647.5,401.6 650.3,400.8C653.1,400.0 655.9,399.0 658.7,398.3C661.5,397.6 664.2,397.2 667.0,396.7C669.8,396.1 672.5,395.4 675.3,395.0C678.6,394.5 682.0,394.3 685.3,394.2C688.6,394.1 692.0,394.2 695.3,394.5C698.1,394.8 700.9,395.3 703.7,395.8C706.5,396.3 709.2,396.7 712.0,397.5C714.8,398.3 717.5,399.6 720.3,400.8C723.1,402.1 725.9,403.5 728.7,405.0C731.5,406.5 734.2,408.2 737.0,410.0C739.8,411.8 742.5,413.9 745.3,415.8C748.1,417.8 750.9,419.9 753.7,421.7C756.5,423.5 759.2,425.0 762.0,426.7C764.8,428.4 767.5,430.0 770.3,431.7C773.1,433.4 775.9,435.0 778.7,436.7C780.5,437.8 782.2,438.8 784.0,440.0C786.8,441.9 789.5,444.5 792.3,446.7C795.1,448.9 797.9,451.1 800.7,453.3C803.5,455.5 806.2,457.8 809.0,460.0C811.8,462.2 814.5,464.8 817.3,466.7C820.1,468.7 822.9,469.9 825.7,471.7C828.5,473.5 831.2,475.7 834.0,477.5C836.8,479.3 839.5,481.0 842.3,482.5C845.1,484.0 847.9,485.4 850.7,486.7C853.5,487.9 856.2,488.9 859.0,490.0C861.8,491.1 864.5,492.2 867.3,493.3C870.1,494.4 872.9,495.7 875.7,496.7C878.5,497.7 881.2,498.4 884.0,499.2C886.8,500.0 889.5,500.7 892.3,501.3C895.1,501.9 897.9,502.5 900.7,503.0C906.2,503.9 911.8,504.4 917.3,504.7C922.9,505.0 928.4,505.0 934.0,505.0C939.6,505.0 945.1,504.8 950.7,504.7C956.2,504.6 961.8,504.5 967.3,504.2C970.2,504.1 973.1,503.8 976.0,503.7C980.7,503.5 985.3,503.9 990.0,503.3C993.3,502.9 996.7,501.8 1000.0,501.2C1003.3,500.6 1006.7,500.6 1010.0,500.0C1012.8,499.5 1015.5,498.8 1018.3,498.3C1021.1,497.7 1023.9,497.2 1026.7,496.7" stroke="#73ff52" stroke-opacity="0.5" stroke-width="1.5"/>
<path d="M125.6,461.9C150.4,461.9 175.2,461.9 200.0,461.8C233.3,461.7 266.7,461.6 300.0,461.3C333.3,461.1 366.7,461.0 400.0,460.3C416.7,460.0 433.3,460.2 450.0,459.0C455.6,458.6 461.1,458.0 466.7,457.5C477.8,456.5 488.9,455.3 500.0,454.2C511.1,453.1 522.2,452.2 533.3,450.8C544.4,449.4 555.6,447.5 566.7,445.8C575.1,444.5 583.6,442.8 592.0,441.7C597.6,441.0 603.1,441.0 608.7,440.0C614.2,439.0 619.8,437.0 625.3,435.8C630.9,434.5 636.4,433.6 642.0,432.5C647.6,431.4 653.1,430.2 658.7,429.2C664.2,428.2 669.8,427.1 675.3,426.3C680.9,425.5 686.4,424.7 692.0,424.2C697.6,423.7 703.1,423.4 708.7,423.3C713.1,423.2 717.6,423.1 722.0,423.3C725.9,423.5 729.8,423.7 733.7,424.2C737.6,424.7 741.4,425.7 745.3,426.3C749.8,427.0 754.2,427.4 758.7,428.3C763.1,429.2 767.6,430.7 772.0,431.7C776.0,432.6 780.0,433.1 784.0,434.2C786.8,434.9 789.5,435.7 792.3,436.7C795.1,437.7 797.9,438.9 800.7,440.0C803.5,441.1 806.2,442.1 809.0,443.3C811.8,444.6 814.5,446.3 817.3,447.5C820.1,448.8 822.9,449.7 825.7,450.8C828.5,451.9 831.2,453.1 834.0,454.2C836.8,455.3 839.5,456.5 842.3,457.5C845.1,458.5 847.9,459.0 850.7,460.0C853.5,461.0 856.2,462.3 859.0,463.3C861.8,464.3 864.5,465.0 867.3,465.8C870.1,466.6 872.9,467.3 875.7,468.3C878.5,469.3 881.2,470.6 884.0,471.7C886.8,472.8 889.5,473.9 892.3,475.0C895.1,476.1 897.9,477.3 900.7,478.3C903.5,479.3 906.2,480.1 909.0,480.8C911.8,481.5 914.5,481.9 917.3,482.5C920.1,483.1 922.9,483.5 925.7,484.2C928.5,484.9 931.2,486.0 934.0,486.7C936.8,487.4 939.5,487.9 942.3,488.3C945.1,488.7 947.9,488.9 950.7,489.2C953.5,489.5 956.2,489.9 959.0,490.0C961.8,490.1 964.5,489.7 967.3,489.7C970.2,489.7 973.1,490.1 976.0,490.3C980.7,490.6 985.3,490.6 990.0,490.8C994.4,491.0 998.9,491.4 1003.3,491.3C1006.6,491.3 1010.0,491.0 1013.3,490.8C1017.8,490.6 1022.2,490.3 1026.7,490.0" stroke="#42ff60" stroke-opacity="0.5" stroke-width="1.5"/>
<path d="M125.6,461.9C150.4,461.9 175.2,461.9 200.0,461.8C213.3,461.8 226.7,462.1 240.0,461.7C245.7,461.5 251.3,461.4 257.0,461.0C261.2,460.7 265.3,460.3 269.5,460.0C273.7,459.7 277.8,459.5 282.0,459.0C286.2,458.5 290.3,457.9 294.5,456.9C298.7,455.9 302.8,454.6 307.0,453.1C311.2,451.6 315.3,450.1 319.5,448.1C322.8,446.5 326.2,444.6 329.5,442.5C332.4,440.6 335.3,438.8 338.2,436.2C341.2,433.8 344.1,430.7 347.0,427.5C349.5,424.8 352.0,422.1 354.5,418.8C357.0,415.4 359.5,411.7 362.0,407.5C364.1,404.0 366.2,400.5 368.2,396.2C369.9,392.8 371.6,388.8 373.2,385.0C374.2,382.9 375.1,380.8 376.0,378.8C377.3,375.8 378.7,373.4 380.0,370.0C381.7,365.8 383.3,360.1 385.0,355.0C386.2,351.4 387.3,347.7 388.5,344.0C389.6,340.5 390.7,336.7 391.8,333.3C392.9,329.8 394.1,326.8 395.2,323.3C396.3,319.9 397.4,316.2 398.5,312.5C399.6,308.8 400.7,304.5 401.8,300.8C402.9,297.0 404.1,293.5 405.2,290.0C406.3,286.6 407.4,283.3 408.5,280.0C410.1,275.3 411.7,271.4 413.3,266.3C414.4,262.7 415.6,258.3 416.7,254.7C417.8,251.2 418.9,248.0 420.0,244.7C421.1,241.4 422.2,237.7 423.3,234.7C424.4,231.6 425.6,229.1 426.7,226.3C427.8,223.6 428.9,220.3 430.0,218.0C431.1,215.7 432.2,213.5 433.3,212.2C434.7,210.6 436.1,210.2 437.5,210.5C438.9,210.8 440.3,211.9 441.7,213.8C442.8,215.3 443.9,217.5 445.0,219.7C446.1,221.9 447.2,224.5 448.3,227.2C449.4,230.0 450.6,232.8 451.7,236.3C452.8,239.7 453.9,243.8 455.0,248.0C456.1,252.2 457.2,256.7 458.3,261.3C459.4,266.1 460.6,271.8 461.7,276.3C463.1,281.7 464.4,284.2 465.8,290.0C467.2,295.9 468.6,303.9 470.0,311.7C471.4,319.5 472.8,328.0 474.2,336.7C475.6,345.2 476.9,354.5 478.3,363.3C479.7,372.3 481.1,381.3 482.5,390.0C483.6,396.8 484.7,404.0 485.8,410.0C486.9,416.2 488.1,420.8 489.2,426.7C490.3,432.5 491.4,438.9 492.5,445.0C493.6,451.1 494.7,457.5 495.8,463.3C496.9,469.2 498.1,474.9 499.2,480.0C500.6,486.2 501.9,491.2 503.3,496.7C504.7,502.3 506.1,508.4 507.5,513.3C509.4,520.1 511.4,524.4 513.3,530.0C514.4,533.3 515.6,536.6 516.7,540.0C517.8,543.3 518.9,547.0 520.0,550.0C521.4,553.8 522.8,556.8 524.2,560.0C525.6,563.2 526.9,566.5 528.3,569.2C530.0,572.5 531.6,575.4 533.3,577.5C535.0,579.6 536.6,580.2 538.3,581.7C539.7,582.9 541.1,584.6 542.5,585.5C544.4,586.7 546.4,586.6 548.3,587.0C551.1,587.6 553.9,588.3 556.7,588.3C559.5,588.3 562.2,587.8 565.0,587.0C567.8,586.2 570.5,584.7 573.3,583.3C576.1,581.8 578.9,580.0 581.7,578.3C585.1,576.2 588.6,574.2 592.0,571.7C594.8,569.7 597.5,567.1 600.3,565.0C603.1,562.9 605.9,561.4 608.7,559.2C611.5,557.0 614.2,553.9 617.0,551.7C619.8,549.5 622.5,547.6 625.3,545.8C628.1,544.0 630.9,542.6 633.7,540.8C636.5,539.0 639.2,536.8 642.0,535.0C644.8,533.2 647.5,531.7 650.3,530.0C653.1,528.3 655.9,526.8 658.7,525.0C661.5,523.2 664.2,520.9 667.0,519.2C669.8,517.5 672.5,516.4 675.3,515.0C678.1,513.6 680.9,512.2 683.7,510.8C686.5,509.4 689.2,508.0 692.0,506.7C694.8,505.4 697.5,504.2 700.3,503.0C703.1,501.8 705.9,500.6 708.7,499.5C711.5,498.4 714.2,497.3 717.0,496.3C719.8,495.3 722.5,494.2 725.3,493.3C728.1,492.4 730.9,491.6 733.7,490.8C736.5,490.0 739.2,489.1 742.0,488.3C744.8,487.5 747.5,486.5 750.3,485.8C753.1,485.1 755.9,484.8 758.7,484.2C761.5,483.6 764.2,482.8 767.0,482.2C769.8,481.6 772.5,480.7 775.3,480.3C778.2,479.9 781.1,480.0 784.0,479.7C789.6,479.1 795.1,477.8 800.7,476.7C806.2,475.6 811.8,474.2 817.3,473.3C822.9,472.4 828.4,471.9 834.0,471.3C839.6,470.7 845.1,470.2 850.7,469.7C856.2,469.2 861.8,468.7 867.3,468.3C872.9,467.8 878.4,467.4 884.0,467.0C889.6,466.6 895.1,466.1 900.7,465.8C906.2,465.5 911.8,465.3 917.3,465.0C922.9,464.7 928.4,464.4 934.0,464.2C939.6,464.0 945.1,463.8 950.7,463.7C959.1,463.5 967.6,463.3 976.0,463.3C984.0,463.3 992.0,463.4 1000.0,463.5C1008.9,463.6 1017.8,463.6 1026.7,463.7" stroke="#3def7b" stroke-opacity="0.5" stroke-width="1.5"/>
<path d="M125.6,461.9C150.4,461.9 175.2,461.8 200.0,461.8C220.0,461.8 240.0,462.0 260.0,461.7C271.7,461.5 283.3,461.7 295.0,460.8C303.2,460.2 311.3,459.3 319.5,458.1C325.8,457.2 332.0,456.4 338.2,455.0C343.7,453.8 349.1,452.2 354.5,450.6C359.5,449.1 364.5,447.5 369.5,445.6C377.2,442.7 384.8,439.7 392.5,435.0C396.7,432.4 400.8,429.4 405.0,426.2C409.2,423.1 413.3,420.2 417.5,416.2C421.7,412.3 425.8,408.1 430.0,402.5C434.2,396.9 438.3,388.7 442.5,382.5C445.4,378.1 448.3,374.9 451.2,370.0C453.6,366.0 455.9,361.2 458.3,356.7C461.1,351.3 463.9,345.6 466.7,340.0C469.5,334.5 472.2,328.6 475.0,323.3C477.8,318.0 480.5,312.7 483.3,308.3C486.1,303.8 488.9,300.2 491.7,296.7C493.1,294.9 494.6,293.0 496.0,291.5C497.7,289.8 499.3,288.7 501.0,287.3C502.7,285.9 504.3,283.9 506.0,283.0C507.7,282.1 509.3,282.2 511.0,282.2C512.4,282.2 513.8,282.1 515.2,282.8C516.6,283.3 517.9,284.6 519.3,285.7C520.7,286.8 522.1,287.9 523.5,289.4C524.9,290.9 526.3,292.9 527.7,294.8C529.1,296.7 530.4,298.6 531.8,300.7C533.2,302.8 534.6,304.4 536.0,307.3C537.6,310.6 539.2,315.8 540.8,320.0C542.1,323.3 543.3,326.5 544.6,330.0C545.6,332.7 546.5,335.5 547.5,338.3C548.6,341.5 549.7,345.0 550.8,348.3C551.9,351.7 553.1,354.9 554.2,358.3C555.3,361.6 556.4,365.0 557.5,368.3C558.6,371.6 559.7,375.1 560.8,378.3C561.9,381.6 563.1,384.3 564.2,387.5C566.7,394.5 569.2,403.0 571.7,410.0C573.4,414.7 575.0,418.6 576.7,423.3C578.4,428.0 580.0,433.3 581.7,438.3C583.4,443.3 585.0,448.8 586.7,453.3C588.5,458.0 590.2,461.2 592.0,465.8C593.7,470.1 595.3,475.4 597.0,480.0C598.7,484.6 600.3,489.2 602.0,493.3C604.2,498.8 606.5,503.7 608.7,508.3C611.5,514.0 614.2,518.8 617.0,523.3C619.8,527.8 622.5,531.8 625.3,535.0C628.1,538.2 630.9,540.1 633.7,542.5C636.5,544.9 639.2,547.4 642.0,549.2C644.8,551.0 647.5,552.1 650.3,553.3C653.1,554.5 655.9,555.5 658.7,556.3C661.5,557.1 664.2,557.9 667.0,558.3C670.3,558.8 673.7,559.2 677.0,558.7C679.2,558.3 681.5,557.5 683.7,556.7C686.5,555.7 689.2,554.4 692.0,553.3C694.8,552.2 697.5,551.0 700.3,550.0C703.1,549.0 705.9,548.6 708.7,547.5C711.5,546.4 714.2,544.7 717.0,543.3C719.8,541.9 722.5,540.4 725.3,539.2C728.1,537.9 730.9,536.9 733.7,535.8C736.5,534.7 739.2,533.6 742.0,532.5C744.8,531.4 747.5,530.3 750.3,529.2C753.1,528.1 755.9,526.9 758.7,525.8C761.5,524.7 764.2,523.6 767.0,522.5C769.8,521.4 772.5,520.3 775.3,519.2C780.9,517.0 786.4,514.3 792.0,512.5C794.7,511.6 797.3,511.0 800.0,510.2C802.4,509.5 804.9,508.8 807.3,508.0C810.6,506.9 814.0,505.4 817.3,504.2C822.9,502.3 828.4,500.9 834.0,499.2C839.6,497.5 845.1,495.7 850.7,494.2C856.2,492.7 861.8,491.4 867.3,490.0C872.9,488.6 878.4,487.1 884.0,485.8C889.6,484.6 895.1,483.5 900.7,482.5C906.2,481.5 911.8,480.6 917.3,479.7C922.9,478.8 928.4,477.8 934.0,477.0C939.6,476.2 945.1,475.4 950.7,474.7C956.2,474.0 961.8,473.5 967.3,473.0C970.2,472.7 973.1,472.4 976.0,472.2C982.9,471.6 989.8,471.2 996.7,470.8C1006.7,470.2 1016.7,469.9 1026.7,469.5" stroke="#5bce9f" stroke-opacity="0.5" stroke-width="1.5"/>
<path d="M125.6,461.9C150.4,461.9 175.2,461.8 200.0,461.8C223.3,461.8 246.7,462.1 270.0,461.7C283.3,461.5 296.7,461.4 310.0,460.6C319.4,460.0 328.8,459.3 338.2,458.1C343.7,457.4 349.1,456.6 354.5,455.6C359.5,454.7 364.5,453.8 369.5,452.5C377.2,450.6 384.8,448.1 392.5,445.0C396.7,443.3 400.8,441.5 405.0,439.4C409.2,437.3 413.3,435.3 417.5,432.5C421.7,429.7 425.8,426.5 430.0,422.5C434.2,418.5 438.3,414.0 442.5,408.8C446.7,403.5 450.8,397.3 455.0,391.2C458.3,386.4 461.7,381.2 465.0,376.2C469.4,369.7 473.9,364.8 478.3,356.7C480.5,352.6 482.8,348.0 485.0,343.3C487.2,338.6 489.5,333.3 491.7,328.3C493.9,323.3 496.1,317.8 498.3,313.3C499.2,311.5 500.1,309.8 501.0,308.0C502.1,305.8 503.2,303.6 504.3,301.5C505.7,298.9 507.1,296.5 508.5,294.0C509.9,291.5 511.3,289.2 512.7,286.5C514.1,283.9 515.4,280.7 516.8,278.2C518.2,275.7 519.6,273.5 521.0,271.5C522.4,269.5 523.8,267.8 525.2,266.1C526.6,264.5 527.9,262.9 529.3,261.5C530.7,260.1 532.1,258.7 533.5,257.8C534.9,256.8 536.3,256.3 537.7,255.7C539.1,255.2 540.4,254.7 541.8,254.4C543.3,254.1 544.9,253.7 546.4,254.2C547.7,254.6 548.9,255.6 550.2,256.5C551.6,257.5 552.9,258.6 554.3,259.8C555.7,261.0 557.1,262.1 558.5,263.6C559.6,264.8 560.7,266.2 561.8,267.8C562.9,269.4 564.1,271.2 565.2,273.2C566.3,275.2 567.4,277.4 568.5,279.8C569.6,282.2 570.7,284.7 571.8,287.3C572.9,290.0 574.1,292.8 575.2,295.7C576.6,299.2 577.9,302.6 579.3,306.5C580.8,310.7 582.3,315.5 583.8,320.0C584.9,323.4 586.0,326.7 587.1,330.0C588.1,332.8 589.0,335.5 590.0,338.3C591.1,341.5 592.2,344.7 593.3,348.3C594.2,351.2 595.1,354.5 596.0,357.5C598.0,364.2 600.0,370.5 602.0,376.7C604.2,383.6 606.5,389.7 608.7,396.7C610.9,403.6 613.1,411.4 615.3,418.3C617.5,425.3 619.8,431.7 622.0,438.3C624.5,445.7 627.0,452.9 629.5,460.0C630.9,464.0 632.3,468.1 633.7,471.7C635.4,476.0 637.0,479.5 638.7,483.3C640.9,488.4 643.1,493.6 645.3,498.3C647.5,503.1 649.8,507.5 652.0,511.7C654.2,515.9 656.5,520.0 658.7,523.3C661.5,527.4 664.2,530.4 667.0,533.3C669.8,536.2 672.5,538.6 675.3,540.8C678.1,543.1 680.9,545.0 683.7,546.7C686.5,548.4 689.2,549.5 692.0,550.8C694.8,552.0 697.5,553.3 700.3,554.2C703.1,555.1 705.9,555.8 708.7,556.3C712.0,556.9 715.4,557.2 718.7,557.2C722.0,557.2 725.4,556.6 728.7,556.3C732.0,556.0 735.4,555.9 738.7,555.3C742.6,554.7 746.4,553.2 750.3,552.5C753.1,552.0 755.9,552.0 758.7,551.3C761.5,550.6 764.2,549.2 767.0,548.3C769.8,547.4 772.5,546.6 775.3,545.8C778.2,544.9 781.1,544.1 784.0,543.3C791.0,541.3 798.0,539.4 805.0,537.5C812.2,535.5 819.5,534.0 826.7,531.7C834.5,529.3 842.2,525.8 850.0,523.3C857.8,520.8 865.5,519.1 873.3,516.7C880.0,514.6 886.6,512.3 893.3,510.0C898.9,508.1 904.4,505.9 910.0,504.2C915.6,502.5 921.1,501.3 926.7,500.0C932.2,498.8 937.8,497.8 943.3,496.7C946.2,496.1 949.1,495.4 952.0,495.0C957.1,494.3 962.2,495.1 967.3,494.2C970.2,493.7 973.1,492.7 976.0,492.0C980.7,490.9 985.3,490.1 990.0,489.2C994.4,488.3 998.9,487.4 1003.3,486.7C1006.6,486.2 1010.0,485.7 1013.3,485.3C1017.8,484.7 1022.2,484.3 1026.7,483.8" stroke="#61aebf" stroke-opacity="0.5" stroke-width="1.5"/>
<path d="M125.6,461.9C150.4,461.9 175.2,461.8 200.0,461.8C216.7,461.8 233.3,461.9 250.0,461.7C258.3,461.6 266.7,461.7 275.0,461.3C281.5,461.0 288.0,460.5 294.5,459.8C298.7,459.3 302.8,458.8 307.0,458.1C311.2,457.4 315.3,456.7 319.5,455.6C322.8,454.7 326.2,453.7 329.5,452.5C332.4,451.5 335.3,450.2 338.2,449.0C341.2,447.8 344.1,446.4 347.0,445.0C349.5,443.8 352.0,442.5 354.5,441.2C357.0,440.0 359.5,438.9 362.0,437.5C364.5,436.1 367.0,434.8 369.5,433.1C377.2,427.9 384.8,419.8 392.5,411.2C396.7,406.6 400.8,401.9 405.0,396.2C408.3,391.7 411.7,387.3 415.0,381.2C416.9,377.8 418.7,374.3 420.6,370.0C421.5,367.9 422.4,365.4 423.3,363.3C425.5,358.1 427.8,354.7 430.0,350.0C432.3,345.3 434.5,339.7 436.8,335.0C438.2,332.1 439.6,329.6 441.0,326.7C442.4,323.8 443.8,320.6 445.2,317.5C446.6,314.5 447.9,311.1 449.3,308.3C450.7,305.5 452.1,303.2 453.5,300.8C454.9,298.4 456.3,296.1 457.7,294.2C459.1,292.2 460.6,290.8 462.0,289.2C464.1,286.9 466.2,285.0 468.3,283.0C470.0,281.4 471.6,279.4 473.3,278.3C475.3,277.0 477.2,276.2 479.2,276.3C481.1,276.4 483.1,277.2 485.0,278.8C486.7,280.2 488.3,282.8 490.0,284.7C491.7,286.6 493.3,287.4 495.0,290.0C496.7,292.6 498.3,296.7 500.0,300.0C502.2,304.5 504.5,307.1 506.7,313.3C508.4,317.9 510.0,325.0 511.7,330.0C512.8,333.3 513.9,336.0 515.0,339.2C516.1,342.4 517.2,345.8 518.3,349.2C519.4,352.7 520.6,356.2 521.7,360.0C522.8,363.7 523.9,367.7 525.0,371.7C526.1,375.7 527.2,380.2 528.3,384.2C530.8,393.4 533.3,401.6 535.8,410.0C537.5,415.6 539.1,421.1 540.8,426.7C542.5,432.2 544.1,437.8 545.8,443.3C547.5,448.9 549.1,454.8 550.8,460.0C552.8,466.1 554.7,471.4 556.7,476.7C558.9,482.6 561.1,488.1 563.3,493.3C565.8,499.3 568.3,504.5 570.8,510.0C573.9,516.8 576.9,525.0 580.0,530.0C581.7,532.7 583.3,534.7 585.0,536.7C587.3,539.6 589.7,541.6 592.0,544.2C594.8,547.3 597.5,551.6 600.3,554.2C603.1,556.9 605.9,558.5 608.7,560.0C611.5,561.5 614.2,562.5 617.0,563.3C619.8,564.1 622.5,564.5 625.3,564.7C628.1,564.9 630.9,565.0 633.7,564.7C636.5,564.4 639.2,563.6 642.0,563.0C644.8,562.4 647.5,561.6 650.3,560.8C653.1,560.0 655.9,559.1 658.7,558.3C661.5,557.5 664.2,557.0 667.0,555.8C669.8,554.6 672.5,552.8 675.3,551.3C678.1,549.8 680.9,548.2 683.7,546.7C686.5,545.2 689.2,544.0 692.0,542.5C694.8,541.0 697.5,539.0 700.3,537.5C703.1,536.0 705.9,534.7 708.7,533.3C711.5,531.9 714.2,530.6 717.0,529.2C719.8,527.8 722.5,526.4 725.3,525.0C728.1,523.6 730.9,522.2 733.7,520.8C736.5,519.4 739.2,518.0 742.0,516.7C744.8,515.5 747.5,514.4 750.3,513.3C753.1,512.2 755.9,511.1 758.7,510.0C761.5,508.9 764.2,507.7 767.0,506.7C769.8,505.7 772.5,504.8 775.3,504.2C778.2,503.6 781.1,503.8 784.0,503.3C789.6,502.4 795.1,500.0 800.7,498.3C806.2,496.6 811.8,494.8 817.3,493.3C822.9,491.8 828.4,490.6 834.0,489.2C839.6,487.8 845.1,486.3 850.7,485.0C856.2,483.8 861.8,482.7 867.3,481.7C872.9,480.6 878.4,479.7 884.0,478.7C889.6,477.7 895.1,476.7 900.7,475.8C906.2,474.9 911.8,474.0 917.3,473.3C922.9,472.6 928.4,472.2 934.0,471.7C939.6,471.2 945.1,470.7 950.7,470.3C956.2,469.9 961.8,469.5 967.3,469.2C970.2,469.0 973.1,468.8 976.0,468.7C984.0,468.3 992.0,468.3 1000.0,468.1C1008.9,467.9 1017.8,467.7 1026.7,467.5" stroke="#558edc" stroke-opacity="0.5" stroke-width="1.5"/>
<path d="M125.6,461.9C150.4,461.9 175.2,461.9 200.0,461.8C233.3,461.7 266.7,461.6 300.0,461.3C333.3,461.0 366.7,460.4 400.0,460.0C416.7,459.8 433.3,460.7 450.0,459.5C455.6,459.1 461.1,458.5 466.7,458.0C477.8,457.0 488.9,456.1 500.0,455.0C511.1,453.9 522.2,453.4 533.3,451.7C544.4,450.0 555.6,447.2 566.7,445.0C575.1,443.3 583.6,442.3 592.0,440.0C594.8,439.2 597.5,438.3 600.3,437.5C603.1,436.7 605.9,436.0 608.7,435.0C611.5,434.0 614.2,432.9 617.0,431.7C619.8,430.4 622.5,428.9 625.3,427.5C628.1,426.1 630.9,424.7 633.7,423.3C636.5,421.9 639.2,420.6 642.0,419.2C644.8,417.8 647.5,416.4 650.3,415.0C653.1,413.6 655.9,412.2 658.7,410.8C661.5,409.4 664.2,408.1 667.0,406.7C669.8,405.3 672.5,404.0 675.3,402.5C678.1,401.0 680.9,399.0 683.7,397.5C686.5,396.0 689.2,394.7 692.0,393.3C694.8,391.9 697.5,390.5 700.3,389.2C703.1,387.9 705.9,386.5 708.7,385.3C711.5,384.1 714.2,383.0 717.0,382.0C720.3,380.8 723.7,379.4 727.0,378.8C730.3,378.2 733.7,378.5 737.0,378.7C740.3,378.9 743.7,379.1 747.0,380.0C749.8,380.7 752.5,381.8 755.3,383.0C758.1,384.3 760.9,385.8 763.7,387.5C766.5,389.2 769.2,391.2 772.0,393.3C774.8,395.4 777.5,399.3 780.3,400.0C781.5,400.3 782.8,399.6 784.0,400.0C786.8,400.9 789.5,406.2 792.3,409.2C795.1,412.3 797.9,415.2 800.7,418.3C803.5,421.3 806.2,424.6 809.0,427.5C811.8,430.4 814.5,433.0 817.3,435.8C820.1,438.6 822.9,441.3 825.7,444.2C828.5,447.1 831.2,450.4 834.0,453.3C836.8,456.2 839.5,458.9 842.3,461.7C845.1,464.5 847.9,467.2 850.7,470.0C853.5,472.8 856.2,475.5 859.0,478.3C861.8,481.1 864.5,484.2 867.3,486.7C870.1,489.2 872.9,491.2 875.7,493.3C878.5,495.4 881.2,497.4 884.0,499.2C886.8,501.0 889.5,502.8 892.3,504.2C895.1,505.6 897.9,506.4 900.7,507.5C902.1,508.1 903.6,508.7 905.0,509.2C907.8,510.1 910.5,510.3 913.3,510.8C918.9,511.8 924.4,513.0 930.0,513.7C935.6,514.5 941.1,515.0 946.7,515.3C952.2,515.6 957.8,515.9 963.3,515.8C967.5,515.8 971.8,515.7 976.0,515.3C980.7,514.9 985.3,514.2 990.0,513.3C994.4,512.4 998.9,511.1 1003.3,510.0C1006.6,509.2 1010.0,508.2 1013.3,507.5C1017.8,506.5 1022.2,505.8 1026.7,505.0" stroke="#2a6ef8" stroke-opacity="0.5" stroke-width="1.5"/>
<path d="M125.6,461.9C150.4,461.9 175.2,461.9 200.0,461.8C233.3,461.7 266.7,461.5 300.0,461.0C333.3,460.5 366.7,460.6 400.0,459.0C416.7,458.2 433.3,458.5 450.0,455.8C455.6,454.9 461.1,453.6 466.7,452.5C472.2,451.4 477.8,450.4 483.3,449.2C488.9,447.9 494.4,446.4 500.0,445.0C505.6,443.6 511.1,442.3 516.7,440.8C522.2,439.3 527.8,437.6 533.3,435.8C538.9,434.0 544.4,432.1 550.0,430.0C555.6,427.9 561.1,425.5 566.7,423.3C572.2,421.1 577.8,419.1 583.3,416.7C586.2,415.5 589.1,414.5 592.0,412.8C594.8,411.2 597.5,408.7 600.3,406.7C603.1,404.7 605.9,402.6 608.7,400.8C611.5,399.0 614.2,397.5 617.0,395.8C619.8,394.1 622.5,392.5 625.3,390.8C628.1,389.1 630.9,387.4 633.7,385.8C636.5,384.2 639.2,382.7 642.0,381.3C644.8,379.9 647.5,378.8 650.3,377.5C653.1,376.2 655.9,374.6 658.7,373.3C661.5,372.1 664.2,371.0 667.0,370.0C669.8,369.0 672.5,368.2 675.3,367.5C678.1,366.8 680.9,366.2 683.7,365.8C687.6,365.2 691.4,364.8 695.3,364.7C698.6,364.6 702.0,364.6 705.3,365.0C708.1,365.3 710.9,365.9 713.7,366.7C716.5,367.5 719.2,368.9 722.0,370.0C724.8,371.1 727.5,372.1 730.3,373.3C733.1,374.6 735.9,376.0 738.7,377.5C741.5,379.0 744.2,380.6 747.0,382.5C749.8,384.4 752.5,386.8 755.3,389.2C758.1,391.6 760.9,394.2 763.7,396.7C766.5,399.2 769.2,401.6 772.0,404.2C774.8,406.8 777.5,410.4 780.3,412.5C781.5,413.5 782.8,414.0 784.0,415.0C786.8,417.2 789.5,421.2 792.3,424.2C795.1,427.3 797.9,430.4 800.7,433.3C803.5,436.2 806.2,438.9 809.0,441.7C811.8,444.5 814.5,447.4 817.3,450.0C820.1,452.7 822.9,455.0 825.7,457.5C828.5,460.0 831.2,462.5 834.0,465.0C836.8,467.5 839.5,470.0 842.3,472.5C845.1,475.0 847.9,477.6 850.7,480.0C853.5,482.4 856.2,484.5 859.0,486.7C861.8,488.9 864.5,491.4 867.3,493.3C870.1,495.2 872.9,496.8 875.7,498.3C878.5,499.8 881.2,501.2 884.0,502.5C886.8,503.8 889.5,504.6 892.3,505.8C894.0,506.5 895.6,507.4 897.3,508.0C899.9,508.9 902.4,508.9 905.0,509.4C907.8,510.0 910.5,510.7 913.3,511.3C918.9,512.5 924.4,513.5 930.0,514.2C935.6,515.0 941.1,515.4 946.7,515.8C952.2,516.2 957.8,516.7 963.3,516.7C967.5,516.7 971.8,516.4 976.0,516.3C980.7,516.1 985.3,516.2 990.0,515.8C994.4,515.4 998.9,514.7 1003.3,514.2C1006.6,513.9 1010.0,513.6 1013.3,513.3C1017.8,512.9 1022.2,512.4 1026.7,512.0" stroke="#4f60ff" stroke-opacity="0.5" stroke-width="1.5"/>
<path d="M125.6,461.9C150.4,461.9 175.2,461.8 200.0,461.8C230.0,461.8 260.0,462.2 290.0,461.7C303.3,461.5 316.7,461.4 330.0,460.8C338.2,460.4 346.3,460.0 354.5,459.4C371.3,458.1 388.2,456.9 405.0,453.1C409.2,452.2 413.3,451.1 417.5,450.0C421.7,448.9 425.8,447.6 430.0,446.2C434.2,444.9 438.3,443.6 442.5,441.9C446.7,440.2 450.8,438.2 455.0,436.2C458.3,434.7 461.7,433.0 465.0,431.2C468.0,429.7 471.0,428.0 474.0,426.2C476.0,425.1 478.0,423.8 480.0,422.5C486.1,418.5 492.2,415.2 498.3,409.2C501.1,406.5 503.9,403.6 506.7,400.0C509.2,396.8 511.7,392.4 514.2,389.2C515.6,387.4 516.9,385.9 518.3,384.2C520.0,382.1 521.6,379.7 523.3,377.5C525.0,375.3 526.6,372.9 528.3,370.8C530.0,368.7 531.6,366.9 533.3,365.0C535.0,363.1 536.6,361.1 538.3,359.2C540.0,357.3 541.6,355.4 543.3,353.8C545.0,352.1 546.6,350.7 548.3,349.2C550.0,347.7 551.6,345.9 553.3,344.6C555.0,343.4 556.6,342.7 558.3,341.7C559.4,341.0 560.6,340.3 561.7,339.6C562.8,338.9 563.9,338.0 565.0,337.5C567.8,336.1 570.5,336.4 573.3,336.5C575.5,336.6 577.8,336.8 580.0,337.5C581.1,337.8 582.2,338.2 583.3,338.8C585.0,339.6 586.6,341.3 588.3,342.5C590.9,344.4 593.4,345.8 596.0,347.9C597.4,349.1 598.9,350.2 600.3,351.7C603.1,354.6 605.9,358.8 608.7,363.3C611.5,367.7 614.2,373.3 617.0,378.3C619.8,383.3 622.5,388.1 625.3,393.3C628.1,398.6 630.9,404.1 633.7,410.0C636.5,415.8 639.2,422.2 642.0,428.3C644.8,434.4 647.5,439.8 650.3,446.7C652.0,450.9 653.6,456.1 655.3,460.0C657.0,463.9 658.6,466.8 660.3,470.0C662.5,474.2 664.8,477.9 667.0,481.7C669.8,486.4 672.5,491.1 675.3,495.0C677.5,498.1 679.8,500.8 682.0,503.3C684.2,505.8 686.5,508.0 688.7,510.0C690.9,511.9 693.1,513.3 695.3,515.0C697.5,516.7 699.8,518.2 702.0,520.0C704.2,521.8 706.5,524.0 708.7,525.8C710.9,527.6 713.1,529.6 715.3,530.8C718.6,532.7 722.0,532.5 725.3,533.3C728.6,534.0 732.0,534.9 735.3,535.3C738.6,535.7 742.0,535.2 745.3,535.8C747.3,536.1 749.2,537.3 751.2,537.2C753.7,537.1 756.2,535.2 758.7,534.2C761.5,533.1 764.2,531.8 767.0,530.8C769.8,529.8 772.5,529.0 775.3,528.0C780.9,526.0 786.4,523.2 792.0,521.0C794.7,520.0 797.3,519.0 800.0,518.0C805.0,516.1 810.0,514.2 815.0,512.5C819.7,510.9 824.3,509.5 829.0,508.0C836.2,505.7 843.5,503.4 850.7,501.3C856.2,499.7 861.8,498.2 867.3,496.7C872.9,495.1 878.4,493.5 884.0,492.0C889.6,490.5 895.1,488.8 900.7,487.5C906.2,486.2 911.8,485.2 917.3,484.2C922.9,483.1 928.4,482.1 934.0,481.2C939.6,480.3 945.1,479.5 950.7,478.7C956.2,478.0 961.8,477.3 967.3,476.7C970.2,476.4 973.1,476.0 976.0,475.8C980.7,475.4 985.3,475.5 990.0,475.3C997.8,474.9 1005.5,474.1 1013.3,473.6C1017.8,473.3 1022.2,473.0 1026.7,472.7" stroke="#7956ff" stroke-opacity="0.5" stroke-width="1.5"/>
<path d="M125.6,461.9C150.4,461.9 175.2,461.8 200.0,461.8C220.0,461.8 240.0,462.1 260.0,461.7C271.7,461.4 283.3,461.5 295.0,460.5C303.2,459.8 311.3,458.9 319.5,457.5C325.8,456.5 332.0,455.4 338.2,453.8C343.7,452.4 349.1,450.7 354.5,448.8C359.5,446.9 364.5,444.8 369.5,442.5C377.2,438.9 384.8,435.4 392.5,430.0C396.7,427.0 400.8,423.5 405.0,420.0C409.2,416.5 413.3,413.1 417.5,408.8C421.7,404.4 425.8,399.0 430.0,393.8C434.2,388.5 438.3,383.1 442.5,377.5C444.3,375.0 446.2,372.6 448.0,370.0C451.4,365.2 454.9,359.9 458.3,355.0C461.1,351.0 463.9,346.9 466.7,343.3C469.5,339.7 472.2,336.2 475.0,333.3C477.8,330.4 480.5,327.6 483.3,325.8C486.4,323.8 489.4,322.6 492.5,322.5C495.6,322.4 498.6,323.3 501.7,325.0C503.9,326.2 506.1,328.0 508.3,330.0C510.0,331.5 511.6,333.1 513.3,335.0C515.0,336.9 516.6,339.3 518.3,341.7C519.7,343.8 521.1,345.9 522.5,348.3C523.9,350.7 525.3,353.1 526.7,355.8C528.1,358.4 529.4,361.3 530.8,364.2C531.9,366.6 533.1,369.2 534.2,371.7C535.3,374.2 536.4,376.7 537.5,379.2C538.6,381.7 539.7,384.1 540.8,386.7C541.8,389.0 542.8,391.5 543.8,394.0C545.8,399.3 547.9,404.8 550.0,411.0C551.7,415.9 553.3,421.7 555.0,426.7C556.9,432.5 558.9,438.1 560.8,443.3C562.8,448.6 564.7,453.6 566.7,458.3C568.9,463.6 571.1,468.6 573.3,473.3C575.5,478.1 577.8,482.5 580.0,486.7C582.2,490.9 584.5,495.0 586.7,498.3C588.5,500.9 590.2,502.4 592.0,505.0C593.7,507.4 595.3,510.8 597.0,513.3C598.7,515.8 600.3,517.8 602.0,520.0C604.2,522.9 606.5,525.9 608.7,528.3C611.5,531.3 614.2,533.6 617.0,535.8C619.8,538.0 622.5,540.4 625.3,541.7C628.1,543.0 630.9,543.2 633.7,543.8C636.5,544.3 639.2,544.8 642.0,545.0C644.8,545.2 647.5,545.0 650.3,545.3C653.6,545.6 657.0,547.4 660.3,547.0C662.5,546.8 664.8,545.7 667.0,545.0C669.8,544.2 672.5,543.5 675.3,542.5C678.1,541.5 680.9,540.3 683.7,539.2C686.5,538.1 689.2,537.0 692.0,535.8C694.8,534.5 697.5,532.9 700.3,531.7C703.1,530.4 705.9,529.6 708.7,528.3C711.5,527.1 714.2,525.5 717.0,524.2C719.8,522.9 722.5,521.5 725.3,520.3C728.1,519.0 730.9,517.9 733.7,516.7C736.5,515.5 739.2,514.4 742.0,513.3C744.8,512.2 747.5,511.0 750.3,510.0C753.1,509.0 755.9,508.5 758.7,507.5C761.5,506.5 764.2,505.2 767.0,504.2C769.8,503.2 772.5,502.5 775.3,501.7C778.2,500.8 781.1,500.0 784.0,499.2C789.6,497.7 795.1,496.5 800.7,495.0C806.2,493.5 811.8,491.6 817.3,490.0C822.9,488.4 828.4,486.8 834.0,485.3C839.6,483.9 845.1,482.5 850.7,481.3C856.2,480.1 861.8,479.0 867.3,478.0C872.9,476.9 878.4,476.0 884.0,475.0C889.6,474.0 895.1,473.0 900.7,472.2C906.2,471.4 911.8,470.6 917.3,470.0C922.9,469.3 928.4,468.8 934.0,468.3C939.6,467.8 945.1,467.4 950.7,467.0C956.2,466.7 961.8,466.5 967.3,466.2C970.2,466.1 973.1,465.9 976.0,465.8C984.0,465.5 992.0,465.4 1000.0,465.2C1008.9,465.0 1017.8,464.9 1026.7,464.7" stroke="#9948ff" stroke-opacity="0.5" stroke-width="1.5"/>
<path d="M125.6,461.9C150.4,461.9 175.2,461.9 200.0,461.8C233.3,461.7 266.7,461.6 300.0,461.3C333.3,461.0 366.7,460.9 400.0,460.0C416.7,459.6 433.3,459.6 450.0,458.3C455.6,457.9 461.1,457.3 466.7,456.7C477.8,455.5 488.9,454.0 500.0,452.5C511.1,451.0 522.2,449.3 533.3,447.5C544.4,445.7 555.6,443.8 566.7,441.7C575.1,440.1 583.6,439.0 592.0,436.7C594.8,435.9 597.5,435.2 600.3,434.2C603.1,433.2 605.9,431.9 608.7,430.8C611.5,429.7 614.2,428.6 617.0,427.5C619.8,426.4 622.5,425.3 625.3,424.2C628.1,423.1 630.9,421.9 633.7,420.8C636.5,419.7 639.2,418.6 642.0,417.5C644.8,416.4 647.5,415.3 650.3,414.2C653.1,413.1 655.9,412.1 658.7,410.8C661.5,409.6 664.2,407.9 667.0,406.7C669.8,405.4 672.5,404.4 675.3,403.3C678.1,402.2 680.9,401.0 683.7,400.0C686.5,399.0 689.2,398.3 692.0,397.5C694.8,396.7 697.5,395.7 700.3,395.0C703.1,394.3 705.9,393.9 708.7,393.3C711.5,392.7 714.2,391.9 717.0,391.3C720.9,390.5 724.8,389.8 728.7,389.5C732.0,389.3 735.4,389.4 738.7,389.5C742.0,389.6 745.4,389.8 748.7,390.0C752.0,390.2 755.4,390.3 758.7,390.8C761.5,391.2 764.2,391.8 767.0,392.5C769.8,393.2 772.5,393.9 775.3,395.0C778.2,396.1 781.1,397.8 784.0,399.2C786.8,400.6 789.5,401.9 792.3,403.3C795.1,404.7 797.9,406.0 800.7,407.5C803.5,409.0 806.2,410.7 809.0,412.5C811.8,414.3 814.5,416.2 817.3,418.3C820.1,420.4 822.9,422.8 825.7,425.0C828.5,427.2 831.2,429.5 834.0,431.7C836.8,433.9 839.5,436.1 842.3,438.3C845.1,440.5 847.9,442.8 850.7,445.0C853.5,447.2 856.2,449.6 859.0,451.7C861.8,453.8 864.5,455.6 867.3,457.5C870.1,459.4 872.9,461.3 875.7,463.3C878.5,465.2 881.2,467.2 884.0,469.2C886.8,471.1 889.5,473.1 892.3,475.0C895.1,476.9 897.9,479.1 900.7,480.8C903.5,482.5 906.2,483.6 909.0,485.0C911.8,486.4 914.5,487.8 917.3,489.2C920.1,490.6 922.9,492.0 925.7,493.3C928.5,494.5 931.2,495.7 934.0,496.7C936.8,497.7 939.5,498.5 942.3,499.2C945.1,499.9 947.9,500.2 950.7,500.8C953.5,501.3 956.2,502.0 959.0,502.5C961.8,503.0 964.5,503.3 967.3,503.7C970.2,504.1 973.1,504.7 976.0,505.0C980.7,505.5 985.3,505.5 990.0,505.8C994.4,506.1 998.9,506.6 1003.3,507.0C1006.6,507.3 1010.0,507.6 1013.3,507.8C1017.8,508.0 1022.2,507.8 1026.7,507.8" stroke="#b434ff" stroke-opacity="0.5" stroke-width="1.5"/>
<path d="M125.6,461.9C150.4,461.9 175.2,461.8 200.0,461.8C220.0,461.8 240.0,462.0 260.0,461.7C271.7,461.5 283.3,461.7 295.0,461.0C303.2,460.5 311.3,459.8 319.5,459.0C325.8,458.4 332.0,457.9 338.2,456.9C343.7,456.1 349.1,455.0 354.5,453.8C359.5,452.6 364.5,451.2 369.5,450.0C377.2,448.2 384.8,447.6 392.5,445.0C396.7,443.6 400.8,441.8 405.0,440.0C409.2,438.2 413.3,436.6 417.5,434.4C421.7,432.2 425.8,429.4 430.0,426.9C434.2,424.4 438.3,422.2 442.5,419.4C446.7,416.6 450.8,413.7 455.0,410.0C458.3,407.0 461.7,403.0 465.0,400.0C470.0,395.4 475.0,393.3 480.0,388.3C483.3,384.9 486.7,380.7 490.0,376.7C493.3,372.7 496.7,368.2 500.0,364.2C501.7,362.2 503.3,360.0 505.0,358.3C506.7,356.6 508.3,355.1 510.0,353.8C511.7,352.4 513.3,351.2 515.0,350.0C516.9,348.6 518.9,347.4 520.8,346.2C523.3,344.8 525.8,343.4 528.3,342.5C530.5,341.7 532.8,341.2 535.0,340.8C537.4,340.4 539.7,339.6 542.1,340.0C543.6,340.3 545.2,341.1 546.7,341.7C548.9,342.6 551.1,343.5 553.3,344.6C555.5,345.7 557.8,346.6 560.0,348.3C561.7,349.6 563.3,351.2 565.0,352.9C566.7,354.6 568.3,356.6 570.0,358.8C571.7,360.9 573.3,363.4 575.0,365.8C576.7,368.2 578.3,370.7 580.0,373.3C581.7,375.9 583.3,378.8 585.0,381.7C587.2,385.6 589.5,389.9 591.7,394.0C594.6,399.3 597.4,404.5 600.3,410.0C603.1,415.4 605.9,421.1 608.7,426.7C611.5,432.2 614.2,438.0 617.0,443.3C620.1,449.2 623.1,454.1 626.2,460.0C628.1,463.7 630.1,468.1 632.0,471.7C634.2,475.9 636.5,479.7 638.7,483.3C640.9,486.9 643.1,490.3 645.3,493.3C647.5,496.4 649.8,499.2 652.0,501.7C654.2,504.2 656.5,506.2 658.7,508.3C661.5,510.9 664.2,513.4 667.0,515.8C669.8,518.2 672.5,520.6 675.3,522.5C678.1,524.5 680.9,526.0 683.7,527.5C686.5,529.0 689.2,530.2 692.0,531.3C694.8,532.4 697.5,533.5 700.3,534.2C703.1,534.9 705.9,535.1 708.7,535.3C713.1,535.7 717.6,535.4 722.0,535.3C725.9,535.2 729.8,535.4 733.7,534.7C736.5,534.2 739.2,533.1 742.0,532.5C744.8,531.9 747.5,531.4 750.3,530.8C753.1,530.2 755.9,529.5 758.7,528.7C761.5,527.9 764.2,526.7 767.0,525.8C769.8,524.9 772.5,524.2 775.3,523.3C780.9,521.5 786.4,519.3 792.0,517.5C794.7,516.6 797.3,515.8 800.0,515.0C803.7,513.8 807.3,512.7 811.0,511.5C814.8,510.3 818.5,509.2 822.3,508.0C826.2,506.8 830.1,505.4 834.0,504.2C839.6,502.5 845.1,500.7 850.7,499.2C856.2,497.7 861.8,496.4 867.3,495.0C872.9,493.6 878.4,492.2 884.0,490.8C889.6,489.4 895.1,488.0 900.7,486.7C906.2,485.5 911.8,484.3 917.3,483.3C922.9,482.3 928.4,481.6 934.0,480.8C939.6,480.0 945.1,479.1 950.7,478.3C956.2,477.6 961.8,476.9 967.3,476.3C970.2,476.0 973.1,475.5 976.0,475.3C980.7,474.9 985.3,475.2 990.0,475.0C997.8,474.6 1005.5,473.6 1013.3,473.0C1017.8,472.6 1022.2,472.3 1026.7,472.0" stroke="#cc00ff" stroke-opacity="0.5" stroke-width="1.5"/>
<path d="M125.6,461.9C150.4,461.8 175.2,461.7 200.0,461.7C210.7,461.7 221.3,461.8 232.0,461.7C240.3,461.6 248.7,461.5 257.0,461.2C265.3,461.0 273.7,460.7 282.0,460.2C286.2,460.0 290.3,459.8 294.5,459.4C298.7,459.0 302.8,458.6 307.0,458.1C311.2,457.6 315.3,457.0 319.5,456.2C322.8,455.6 326.2,454.8 329.5,454.0C332.4,453.3 335.3,452.8 338.2,451.9C341.2,451.0 344.1,449.9 347.0,448.8C349.5,447.8 352.0,446.6 354.5,445.6C357.0,444.6 359.5,443.7 362.0,442.5C364.5,441.3 367.0,440.0 369.5,438.5C377.2,433.9 384.8,426.9 392.5,420.0C396.7,416.2 400.8,412.0 405.0,408.1C409.2,404.2 413.3,400.3 417.5,396.9C421.7,393.5 425.8,390.2 430.0,387.5C434.2,384.8 438.3,382.5 442.5,380.6C446.7,378.7 450.8,377.1 455.0,376.0C458.3,375.2 461.7,374.9 465.0,374.4C466.7,374.1 468.3,373.7 470.0,373.6C474.4,373.3 478.9,374.5 483.3,375.8C487.8,377.2 492.2,379.3 496.7,381.7C501.1,384.1 505.6,387.2 510.0,390.0C514.4,392.8 518.9,395.0 523.3,398.3C527.8,401.6 532.2,406.4 536.7,410.0C541.1,413.6 545.6,416.5 550.0,420.0C554.4,423.5 558.9,427.2 563.3,430.8C567.8,434.4 572.2,438.2 576.7,441.7C581.8,445.7 586.9,449.7 592.0,453.3C595.3,455.6 598.7,457.8 602.0,460.0C607.0,463.2 612.0,466.4 617.0,469.2C622.6,472.3 628.1,475.0 633.7,477.5C639.2,480.0 644.8,482.3 650.3,484.2C655.9,486.2 661.4,487.8 667.0,489.2C672.6,490.6 678.1,491.6 683.7,492.5C689.2,493.4 694.8,494.2 700.3,494.7C705.9,495.3 711.4,495.5 717.0,495.8C722.6,496.1 728.1,496.2 733.7,496.3C739.2,496.4 744.8,496.3 750.3,496.2C755.9,496.1 761.4,495.8 767.0,495.7C772.7,495.5 778.3,495.6 784.0,495.3C789.6,495.0 795.1,494.3 800.7,493.7C806.2,493.2 811.8,492.5 817.3,492.0C822.9,491.5 828.4,491.1 834.0,490.5C839.6,489.9 845.1,489.3 850.7,488.7C856.2,488.2 861.8,487.7 867.3,487.2C872.9,486.7 878.4,486.2 884.0,485.7C889.6,485.2 895.1,484.7 900.7,484.2C906.2,483.7 911.8,483.2 917.3,482.8C922.9,482.4 928.4,482.1 934.0,481.7C939.6,481.3 945.1,480.9 950.7,480.5C956.2,480.1 961.8,479.9 967.3,479.5C970.2,479.3 973.1,479.0 976.0,478.8C982.9,478.3 989.8,478.0 996.7,477.5C1002.2,477.1 1007.8,476.7 1013.3,476.3C1017.8,476.0 1022.2,475.8 1026.7,475.5" stroke="#000" stroke-width="1.5"/>
<rect x="415" y="34.5" width="576.0" height="629.9" fill="#165816" fill-opacity="0.15" stroke="none"/>
<rect x="470" y="34.5" width="543.0" height="629.9" fill="#9b2de4" fill-opacity="0.19" stroke="none"/>
<line x1="252.5" x2="252.5" y1="34.5" y2="664.4" stroke="#0000f5" stroke-width="1.5"/>
<line x1="465.2" x2="465.2" y1="34.5" y2="664.4" stroke="#125a0a" stroke-width="1.7"/>
<line x1="605.7" x2="605.7" y1="34.5" y2="664.4" stroke="#9200ec" stroke-width="1.6"/>
</g>
<text x="282" y="411.2" font-size="14.67" fill="#0000f5">Feb 11</text>
<text x="494.5" y="398" font-size="14.67" fill="#17530f">Mar 29</text>
<text x="636" y="384" font-size="14.67" fill="#9200ec">Apr 29</text>
<rect x="80.7" y="34.5" width="991.1" height="629.9" fill="none" stroke="#555" stroke-width="1.05" stroke-linejoin="round"/>
<line x1="76.8" x2="80.7" y1="586.20" y2="586.20" stroke="#333" stroke-width="1.1"/>
<text x="73.0" y="593.30" font-size="19.8" fill="#4d4d4d" text-anchor="end">-0.01</text>
<line x1="76.8" x2="80.7" y1="461.90" y2="461.90" stroke="#333" stroke-width="1.1"/>
<text x="73.0" y="469.00" font-size="19.8" fill="#4d4d4d" text-anchor="end">0.00</text>
<line x1="76.8" x2="80.7" y1="337.60" y2="337.60" stroke="#333" stroke-width="1.1"/>
<text x="73.0" y="344.70" font-size="19.8" fill="#4d4d4d" text-anchor="end">0.01</text>
<line x1="76.8" x2="80.7" y1="213.30" y2="213.30" stroke="#333" stroke-width="1.1"/>
<text x="73.0" y="220.40" font-size="19.8" fill="#4d4d4d" text-anchor="end">0.02</text>
<line x1="76.8" x2="80.7" y1="89.00" y2="89.00" stroke="#333" stroke-width="1.1"/>
<text x="73.0" y="96.10" font-size="19.8" fill="#4d4d4d" text-anchor="end">0.03</text>
<line y1="664.4" y2="668.3" x1="125.65" x2="125.65" stroke="#333" stroke-width="1.1"/>
<text transform="translate(125.65,672) rotate(-45)" font-size="20" fill="#4d4d4d" text-anchor="end" dy="14.4">01/13/20</text>
<line y1="664.4" y2="668.3" x1="261.52" x2="261.52" stroke="#333" stroke-width="1.1"/>
<text transform="translate(261.52,672) rotate(-45)" font-size="20" fill="#4d4d4d" text-anchor="end" dy="14.4">02/12/20</text>
<line y1="664.4" y2="668.3" x1="397.39" x2="397.39" stroke="#333" stroke-width="1.1"/>
<text transform="translate(397.39,672) rotate(-45)" font-size="20" fill="#4d4d4d" text-anchor="end" dy="14.4">03/13/20</text>
<line y1="664.4" y2="668.3" x1="533.26" x2="533.26" stroke="#333" stroke-width="1.1"/>
<text transform="translate(533.26,672) rotate(-45)" font-size="20" fill="#4d4d4d" text-anchor="end" dy="14.4">04/12/20</text>
<line y1="664.4" y2="668.3" x1="669.13" x2="669.13" stroke="#333" stroke-width="1.1"/>
<text transform="translate(669.13,672) rotate(-45)" font-size="20" fill="#4d4d4d" text-anchor="end" dy="14.4">05/12/20</text>
<line y1="664.4" y2="668.3" x1="805.00" x2="805.00" stroke="#333" stroke-width="1.1"/>
<text transform="translate(805.00,672) rotate(-45)" font-size="20" fill="#4d4d4d" text-anchor="end" dy="14.4">06/11/20</text>
<line y1="664.4" y2="668.3" x1="940.87" x2="940.87" stroke="#333" stroke-width="1.1"/>
<text transform="translate(940.87,672) rotate(-45)" font-size="20" fill="#4d4d4d" text-anchor="end" dy="14.4">07/11/20</text>
<text x="576" y="22.9" font-size="21.4" font-weight="bold" text-anchor="middle" fill="#000">spaghetti plot of infection prevalence</text>
<text x="576" y="757" font-size="18.4" text-anchor="middle" fill="#000">time</text>
<text transform="translate(20.8,350) rotate(-90)" font-size="18.4" text-anchor="middle" fill="#000">1st order derivative</text>
<text x="1093" y="294" font-size="14.4" fill="#000">id</text>
<rect x="1094" y="302.5" width="23" height="115" fill="url(#cb)"/>
<path d="M1094,393.3h4.6M1117,393.3h-4.6" stroke="#fff" stroke-opacity="0.6" stroke-width="0.7"/>
<text x="1124" y="397.9" font-size="11.7" fill="#000">5</text>
<path d="M1094,363.0h4.6M1117,363.0h-4.6" stroke="#fff" stroke-opacity="0.6" stroke-width="0.7"/>
<text x="1124" y="367.6" font-size="11.7" fill="#000">10</text>
<path d="M1094,332.8h4.6M1117,332.8h-4.6" stroke="#fff" stroke-opacity="0.6" stroke-width="0.7"/>
<text x="1124" y="337.4" font-size="11.7" fill="#000">15</text>
<text x="1124" y="307.1" font-size="11.7" fill="#000">20</text>
</svg></body></html>
